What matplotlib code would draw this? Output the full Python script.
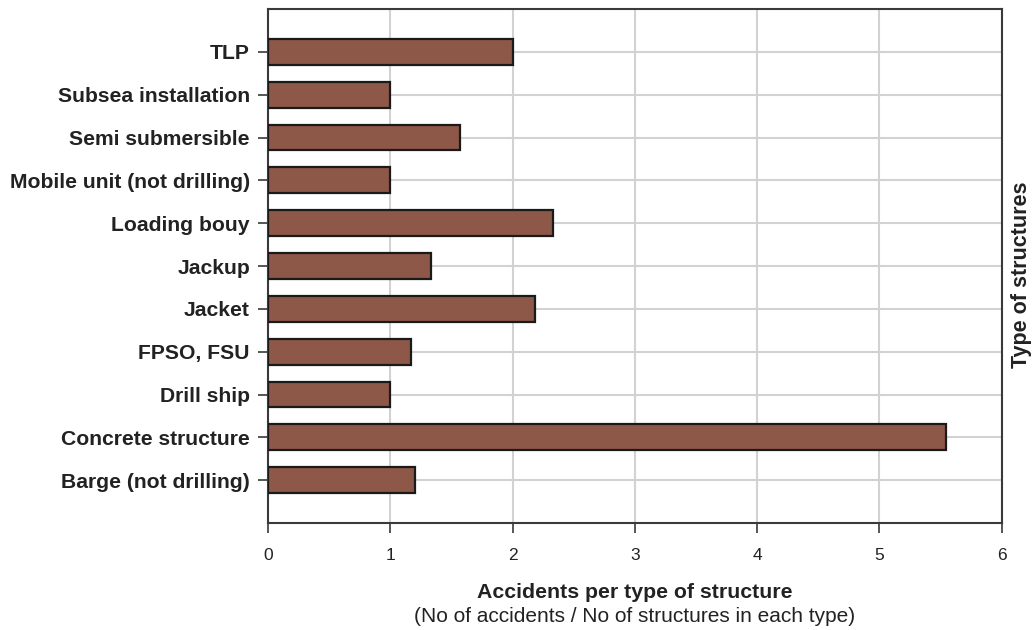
import matplotlib
matplotlib.use("Agg")
import matplotlib.pyplot as plt

categories = ["Barge (not drilling)", "Concrete structure", "Drill ship", "FPSO, FSU",
              "Jacket", "Jackup", "Loading bouy", "Mobile unit (not drilling)",
              "Semi submersible", "Subsea installation", "TLP"]
values = [1.2, 5.55, 1.0, 1.17, 2.18, 1.33, 2.33, 1.0, 1.57, 1.0, 2.0]
xticks = [0, 1, 2, 3, 4, 5, 6]

plt.rcParams['font.family'] = ['Liberation Sans', 'DejaVu Sans']

fig = plt.figure(figsize=(10.34, 6.3), dpi=100)
ax = fig.add_axes([268/1034, 1 - 523/630, (1001.5 - 268)/1034, (523 - 9)/630])

ypos = list(range(len(categories)))
ax.barh(ypos, values, height=0.6, color="#8d5847", edgecolor="#1a1a1a", linewidth=1.6, zorder=3)

ax.set_xlim(0, 6)
ax.set_ylim(-1, len(categories))
ax.set_xticks(xticks)
ax.set_xticklabels([str(t) for t in xticks], fontsize=12.5, color="#222222")
ax.set_yticks(ypos)
ax.set_yticklabels(categories, fontsize=15.2, fontweight="bold", color="#222222")
ax.grid(True, color="#d2d2d2", linewidth=1.5, zorder=0)
ax.set_axisbelow(True)
for s in ax.spines.values():
    s.set_color("#3a3a3a")
    s.set_linewidth(1.5)
ax.tick_params(axis="both", direction="out", length=7, width=1.2, color="#3a3a3a")
ax.tick_params(axis="y", pad=6)
ax.tick_params(axis="x", pad=11)

cx = (268 + 1001.5) / 2 / 1034
fig.text(cx, 1 - 593/630, "Accidents per type of structure", ha="center", va="center",
         fontsize=15.3, fontweight="bold", color="#222222")
fig.text(cx, 1 - 617/630, "(No of accidents / No of structures in each type)", ha="center", va="center",
         fontsize=15, color="#222222")
fig.text(1022/1034, 1 - 275/630, "Type of structures", ha="center", va="center", rotation=90,
         fontsize=15.5, fontweight="bold", color="#222222")

fig.savefig("out.png", dpi=100)
